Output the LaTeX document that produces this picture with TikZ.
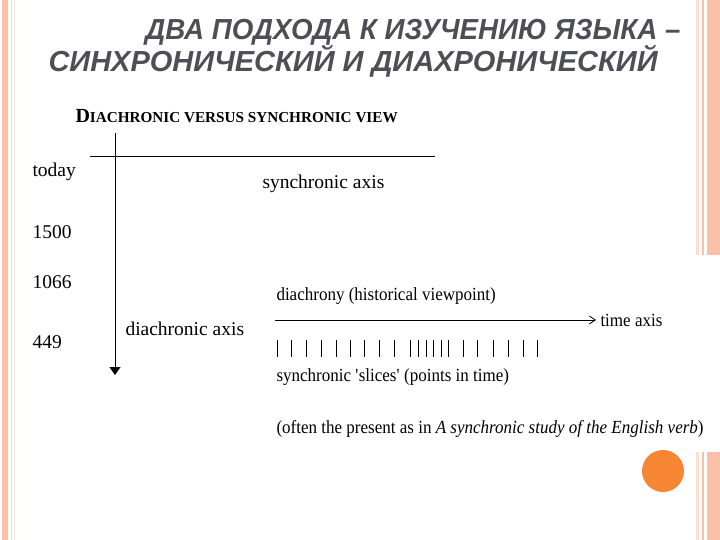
\documentclass[tikz,border=0pt]{standalone}
\usepackage{fontspec}
\setmainfont{Liberation Serif}
\newfontfamily\titlefont{Liberation Sans}
\newfontfamily\narrowfont[FakeStretch=0.92]{Liberation Serif}
\usepackage{xcolor}
\definecolor{mysalmon}{RGB}{250,192,168}
\definecolor{mypeach}{RGB}{251,222,204}
\definecolor{myorange}{RGB}{247,134,50}
\definecolor{mygray}{RGB}{78,78,86}
\usetikzlibrary{arrows.meta}

\begin{document}
\begin{tikzpicture}[x=1pt,y=-1pt,line width=1pt]
	\tikzstyle{lbl}=[inner sep=0pt,anchor=base west,font=\fontsize{19.5}{22}\selectfont];
	\tikzstyle{sml}=[inner sep=0pt,anchor=base west,font=\narrowfont\fontsize{18.5}{20}\selectfont];
	\tikzstyle{ttl}=[inner sep=0pt,text=mygray,font=\titlefont\bfseries\itshape\fontsize{29}{31}\selectfont];
	\useasboundingbox (0,0) rectangle (720,540);
	% frame stripes
	\fill[mysalmon] (2,0) rectangle (8,540);
	\draw[mypeach,line width=1.5pt] (11.5,0) -- (11.5,540);
	\draw[mypeach!60,line width=1pt] (14.5,0) -- (14.5,540);
	\fill[mypeach] (696,0) rectangle (699,255);
	\draw[mysalmon,line width=1.2pt] (703,0) -- (703,255);
	\fill[mysalmon] (706.5,0) rectangle (720,255);
	\fill[mypeach] (696,452) rectangle (699,540);
	\draw[mysalmon,line width=1.2pt] (703,452) -- (703,540);
	\fill[mysalmon] (706.5,452) rectangle (720,540);
	\fill[myorange] (663,471) circle (21);
	% title
	\node[ttl,anchor=base east] (t1) at (681,40) {\scalebox{0.955}[1]{ДВА ПОДХОДА К ИЗУЧЕНИЮ ЯЗЫКА –}};
	\node[ttl,anchor=base west] (t2) at (48,72) {СИНХРОНИЧЕСКИЙ И ДИАХРОНИЧЕСКИЙ};
	% diagram
	\node[lbl,font=\bfseries] (head) at (75,123) {\fontsize{20}{22}\selectfont D\fontsize{15.2}{17}\selectfont IACHRONIC VERSUS SYNCHRONIC VIEW};
	\coordinate (dtop) at (115,133);
	\coordinate (dbot) at (115,375);
	\coordinate (sl) at (90,157);
	\coordinate (sr) at (435,157);
	\draw[-{Triangle[width=11pt,length=8pt]}] (dtop) -- (dbot);
	\draw (sl) -- (sr);
	\node[lbl] (today) at (32,177) {today};
	\node[lbl] (y1500) at (32,238) {1500};
	\node[lbl] (y1066) at (32,288) {1066};
	\node[lbl] (y449) at (32,348) {449};
	\node[lbl] (saxis) at (262,189) {synchronic axis};
	\node[lbl] (daxis) at (125,335) {diachronic axis};
	\node[sml] (dchr) at (276,300) {diachrony (historical viewpoint)};
	\node[sml] (taxis) at (600,326) {time axis};
	\coordinate (tl) at (275,320);
	\draw[-{Straight Barb[length=6pt,width=8pt,line width=0.8pt]},shorten >=4pt] (tl) -- (taxis.west |- tl);
	\draw (277,340) -- ++(0,17) (291.7,340) -- ++(0,17) (306.3,340) -- ++(0,17)
		(321.7,340) -- ++(0,17) (336.7,340) -- ++(0,17) (350,340) -- ++(0,17) (364.3,340) -- ++(0,17)
		(379,340) -- ++(0,17) (394.3,340) -- ++(0,17) (410.7,340) -- ++(0,17) (418.5,340) -- ++(0,17)
		(426.3,340) -- ++(0,17) (433.7,340) -- ++(0,17) (441,340) -- ++(0,17) (448.3,340) -- ++(0,17)
		(463.7,340) -- ++(0,17) (477.7,340) -- ++(0,17) (493.7,340) -- ++(0,17) (508.3,340) -- ++(0,17)
		(523,340) -- ++(0,17) (537.7,340) -- ++(0,17);
	\node[sml] (slices) at (276,381) {synchronic \textquotesingle slices\textquotesingle{} (points in time)};
	\node[sml] (often) at (276,433) {(often the present as in \textit{A synchronic study of the English verb})};
\end{tikzpicture}
\end{document}
